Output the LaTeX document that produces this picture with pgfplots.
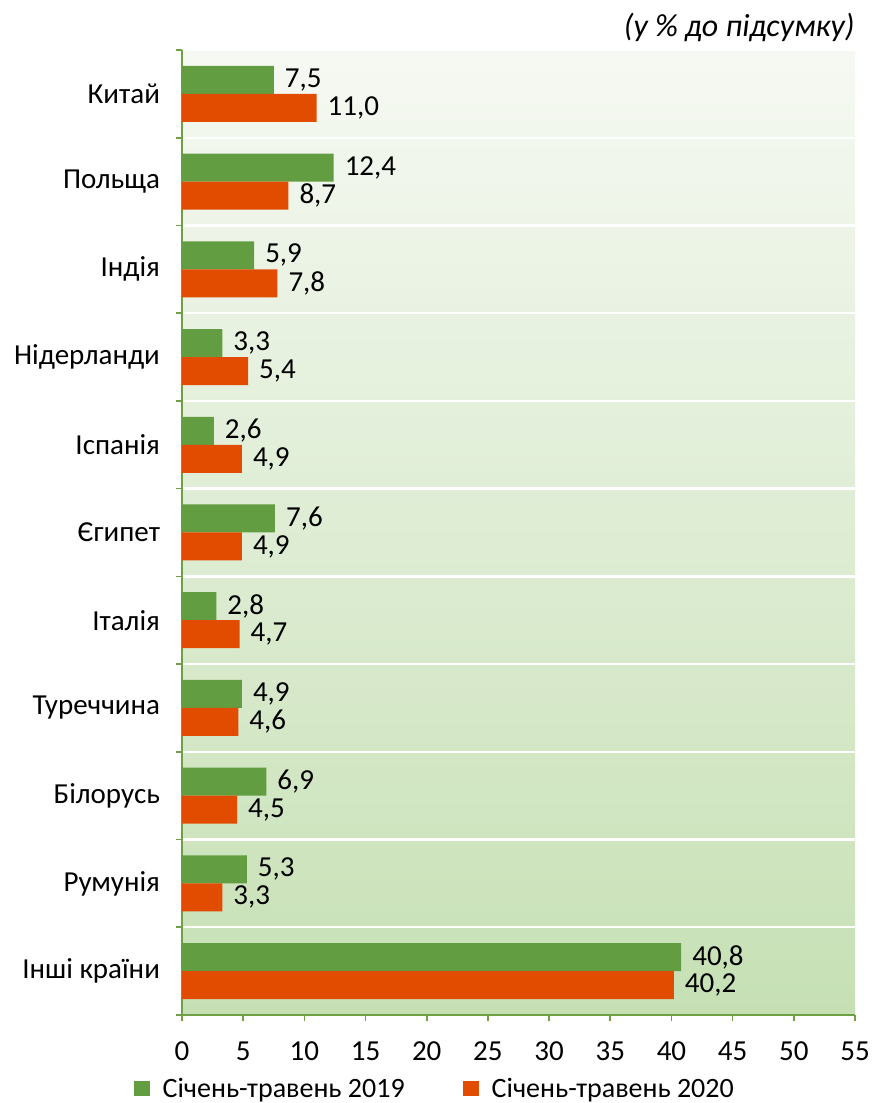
\documentclass[border=0pt]{standalone}
\usepackage{fontspec}
\setmainfont{Carlito}
\usepackage{pgfplots}
\pgfplotsset{compat=1.18}
\definecolor{gbar}{HTML}{629D41}
\definecolor{obar}{HTML}{E24C00}
\definecolor{axg}{HTML}{70A046}
\definecolor{bgtop}{HTML}{F6F9F3}
\definecolor{bgbot}{HTML}{C6E0B4}
\begin{document}
\begin{tikzpicture}[font=\fontsize{14.5}{17.4}\selectfont]
\path[use as bounding box] (-91pt,-44pt) rectangle (345pt,507.5pt);
\begin{axis}[
  name=ax,
  at={(0,0)}, anchor=south west,
  scale only axis, width=336.5pt, height=482.5pt,
  /pgf/number format/assume math mode=true,
  xbar, bar width=14pt,
  xmin=0, xmax=55, xtick={0,5,...,55},
  ymin=-0.5, ymax=10.5,
  ytick={-0.5,0.5,...,10.5}, yticklabels={},
  ymajorgrids, major grid style={white, line width=1.2pt},
  extra y ticks={0,1,...,10},
  extra y tick labels={Інші країни,Румунія,Білорусь,Туреччина,Італія,Єгипет,Іспанія,Нідерланди,Індія,Польща,Китай},
  extra y tick style={major tick length=0pt, grid=none},
  yticklabel style={xshift=-7.5pt},
  xticklabel style={yshift=-7pt},
  axis x line*=bottom, axis y line*=left,
  axis line style={axg, line width=0.8pt},
  tick style={axg, line width=0.8pt},
  tick align=outside, major tick length=3pt,
  axis background/.style={shade, top color=bgtop, bottom color=bgbot},
  point meta=x,
  nodes near coords={\pgfmathprintnumber[use comma,fixed,fixed zerofill,precision=1,assume math mode=true]{\pgfplotspointmeta}},
  nodes near coords style={anchor=west, xshift=2pt, text=black},
  legend image code/.code={\fill[#1] (0pt,-3.3pt) rectangle (8pt,4.3pt);},
  legend style={draw=none, fill=none, legend columns=2,
    font=\fontsize{14}{16.8}\selectfont,
    at={(0.377,-0.0775)}, anchor=center,
    /tikz/every odd column/.append style={column sep=4.5pt},
    /tikz/every even column/.append style={column sep=27pt}},
]
\addplot[fill=gbar, draw=none, bar shift=7pt] coordinates {
  (7.5,10) (12.4,9) (5.9,8) (3.3,7) (2.6,6) (7.6,5) (2.8,4) (4.9,3) (6.9,2) (5.3,1) (40.8,0)};
\addlegendentry{Січень-травень 2019}
\addplot[fill=obar, draw=none, bar shift=-7pt] coordinates {
  (11.0,10) (8.7,9) (7.8,8) (5.4,7) (4.9,6) (4.9,5) (4.7,4) (4.6,3) (4.5,2) (3.3,1) (40.2,0)};
\addlegendentry{Січень-травень 2020}
\end{axis}
\node[anchor=base east, font=\itshape\fontsize{16}{19}\selectfont, yshift=6.5pt, inner sep=0pt] at (ax.north east) {(у \% до підсумку)};
\end{tikzpicture}
\end{document}
